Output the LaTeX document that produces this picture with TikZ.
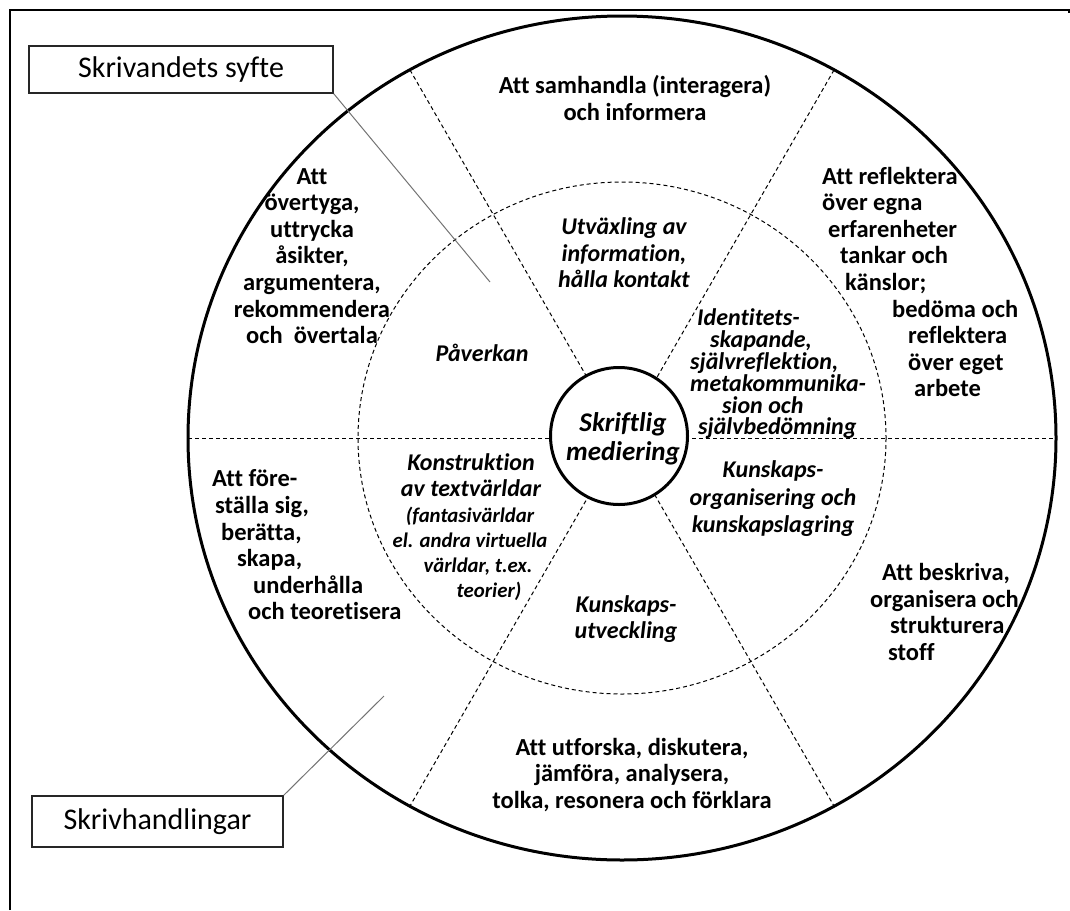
\documentclass[tikz,border=0pt]{standalone}
\usepackage{fontspec}
\setmainfont{Carlito}[Ligatures=CommonOff]
\begin{document}
\begin{tikzpicture}[x=1pt,y=-1pt,
  outertxt/.style={font=\bfseries\fontsize{24.5}{26.6}\selectfont, align=center, inner sep=0pt},
  outerleft/.style={font=\bfseries\fontsize{24.5}{26.6}\selectfont, align=left, inner sep=0pt, anchor=west},
  innertxt/.style={font=\bfseries\itshape\fontsize{24}{26.5}\selectfont, align=center, inner sep=0pt},
  innerleft/.style={font=\bfseries\itshape\fontsize{24}{21.8}\selectfont, align=left, inner sep=0pt, anchor=west},
  parentxt/.style={font=\bfseries\itshape\fontsize{20.8}{25}\selectfont, align=center, inner sep=0pt},
  centertxt/.style={font=\bfseries\itshape\fontsize{27}{29}\selectfont, align=center, inner sep=0pt},
  labelbox/.style={draw=black!85, line width=1.5pt, font=\fontsize{30}{36}\selectfont, inner sep=0pt},
  divider/.style={line width=1pt, dash pattern=on 4pt off 3pt},
  leader/.style={draw=black!55, line width=1pt},
  frameline/.style={line width=1.6pt}
]
\useasboundingbox (0,0) rectangle (1070,910);
% frame
\coordinate (fa) at (10,910);
\coordinate (fb) at (10,10);
\coordinate (fc) at (1069,10);
\coordinate (fd) at (1069,13);
\draw[frameline] (fa) -- (fb) -- (fc) -- (fd);

% centre and dividers
\coordinate (c) at (622,438);
\coordinate (d1a) at (188,438);
\coordinate (d1b) at (1056,438);
\coordinate (d2a) at (834,70);
\coordinate (d2b) at (410,806);
\coordinate (d3a) at (410,70);
\coordinate (d3b) at (834,806);
\draw[divider] (d1a) -- (d1b);
\draw[divider] (d2a) -- (d2b);
\draw[divider] (d3a) -- (d3b);
\draw[divider] (c) ellipse [x radius=264, y radius=256];
\draw[line width=3pt] (c) ellipse [x radius=434, y radius=422];
\node[draw, circle, line width=3pt, fill=white, minimum size=137pt, inner sep=0pt] (mid) at (619,436) {};
\node[centertxt] (midtxt) at (623,439) {Skriftlig\\mediering};

% outer ring texts
\node[outertxt] (o1) at (635,98) {Att samhandla (interagera)\\och informera};
\node[outerleft] (o2) at (822,282) {Att reflektera\\över egna\\\hspace*{6pt}erfarenheter\\\hspace*{18pt}tankar och\\\hspace*{23pt}känslor;\\\hspace*{70pt}bedöma och\\\hspace*{86pt}reflektera\\\hspace*{86pt}över eget\\\hspace*{92pt}arbete};
\node[outertxt] (o3) at (312,256) {Att\\övertyga,\\uttrycka\\åsikter,\\argumentera,\\rekommendera\\och~ övertala};
\node[outerleft] (o4) at (212,545) {Att före-\\\hspace*{3pt}ställa sig,\\\hspace*{9pt}berätta,\\\hspace*{25pt}skapa,\\\hspace*{41pt}underhålla\\\hspace*{36pt}och teoretisera};
\node[outertxt] (o5) at (632,775) {Att utforska, diskutera,\\jämföra, analysera,\\tolka, resonera och förklara};
\node[outerleft] (o6) at (870,612) {\hspace*{12pt}Att beskriva,\\organisera och\\\hspace*{20pt}strukturera\\\hspace*{18pt}stoff};

% inner ring texts
\node[innertxt] (i1) at (624,253) {Utväxling av\\information,\\hålla kontakt};
\node[innerleft] (i2) at (690,374) {\hspace*{7pt}Identitets-\\\hspace*{20pt}skapande,\\självreflektion,\\metakommunika-\\\hspace*{32pt}sion och\\\hspace*{8pt}självbedömning};
\node[innertxt] (i3) at (482,353) {Påverkan};
\node[innertxt] (i4) at (471,475) {Konstruktion\\av textvärldar};
\node[parentxt] (i4b) at (470,554) {(fantasivärldar\\el. andra virtuella\\\hspace*{16pt}världar, t.ex.\\\hspace*{38pt}teorier)};
\node[innertxt] (i5) at (626,619) {Kunskaps-\\utveckling};
\node[innertxt, font=\bfseries\itshape\fontsize{24}{27.5}\selectfont] (i6) at (773,499) {Kunskaps-\\organisering och\\kunskapslagring};

% label boxes and leaders
\node[labelbox, minimum width=304pt, minimum height=47pt] (syfte) at (181,69.5) {Skrivandets syfte};
\node[labelbox, minimum width=251pt, minimum height=51pt] (handl) at (157.5,821.5) {Skrivhandlingar};
\coordinate (ls) at (490,282);
\coordinate (lh) at (384,696);
\draw[leader] (syfte.south east) -- (ls);
\draw[leader] (handl.north east) -- (lh);
\end{tikzpicture}
\end{document}
